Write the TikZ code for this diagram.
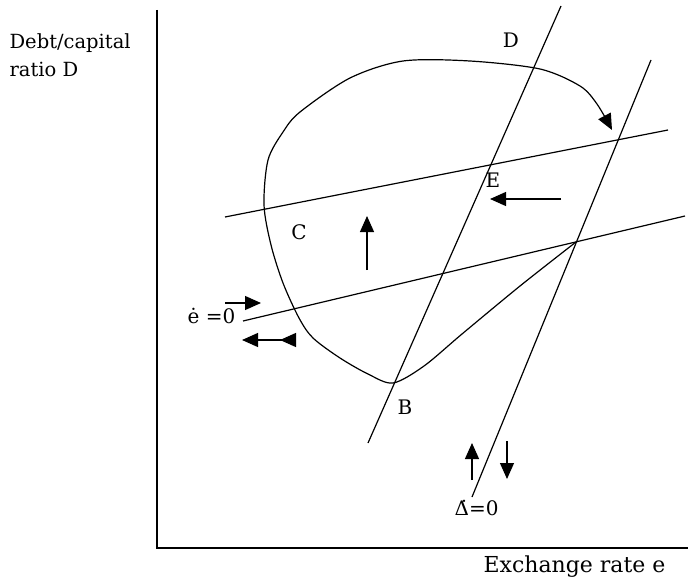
\documentclass[tikz,border=0pt]{standalone}
\usepackage{fontspec}
\setmainfont{DejaVu Serif}
\usetikzlibrary{arrows.meta}

\begin{document}
\begin{tikzpicture}[x=1pt,y=-1pt,line width=1.2pt,
  lab/.style={font=\fontsize{20}{24}\selectfont,inner sep=1pt},
  axislab/.style={font=\fontsize{21}{28}\selectfont,align=left,inner sep=0pt},
  flow/.style={-{Triangle[length=16pt,width=14pt]}}]
\useasboundingbox (0,0) rectangle (690,578);
% axes
\coordinate (top) at (157,10);
\coordinate (orig) at (157,548);
\coordinate (far) at (688,548);
\draw (top) -- (orig) -- (far);
\node[axislab,font=\fontsize{19.5}{28}\selectfont,anchor=north west] (ylab) at (9,33) {Debt/capital\\ratio D};
\node[axislab,font=\fontsize{22}{26}\selectfont,anchor=base east] (xlab) at (666,572) {Exchange rate e};
% schedules
\coordinate (d1) at (368,443);
\coordinate (d2) at (561,6);
\coordinate (r1) at (472,497);
\coordinate (r2) at (651,60);
\coordinate (u1) at (225,217);
\coordinate (u2) at (668,130);
\coordinate (l1) at (243,321);
\coordinate (l2) at (685,216);
\draw (d1) -- (d2);
\draw (r1) -- (r2);
\draw (u1) -- (u2);
\draw (l1) -- (l2);
% labels
\node[lab] (D) at (511,40) {D};
\node[lab] (E) at (493,180) {E};
\node[lab] (C) at (299,232) {C};
\node[lab] (B) at (405,407) {B};
\node[lab,anchor=base west] (edot) at (186,323) {\.{e} =0};
\node[lab,anchor=base west] (ddot) at (453,515) {\.{Δ}=0};
% trajectory
\coordinate (lowx) at (576,242);
\draw[flow] plot[smooth,tension=0.5] coordinates {(lowx) (520,286) (462,334)
  (424,366) (393,383) (368,374) (340,358) (313,338) (299,318) (283,283)
  (271,245) (264,205) (268,160) (283,132) (300,112) (350,78) (403,61) (470,61)
  (540,69) (580,86) (597,104) (612,130)};
% motion arrows
\coordinate (a1) at (561,199);
\coordinate (a2) at (490,199);
\draw[flow] (a1) -- (a2);
\coordinate (a3) at (367,270);
\coordinate (a4) at (367,216);
\draw[flow] (a3) -- (a4);
\coordinate (a5) at (225,303);
\coordinate (a6) at (261,303);
\draw[flow] (a5) -- (a6);
\coordinate (a7) at (296,340);
\coordinate (a8) at (242,340);
\draw[{Triangle[length=16pt,width=14pt,reversed]}-{Triangle[length=16pt,width=14pt]}] (a7) -- (a8);
\coordinate (a9) at (472,480);
\coordinate (a10) at (472,443);
\draw[flow] (a9) -- (a10);
\coordinate (a11) at (507,441);
\coordinate (a12) at (507,479);
\draw[flow] (a11) -- (a12);
\end{tikzpicture}
\end{document}
